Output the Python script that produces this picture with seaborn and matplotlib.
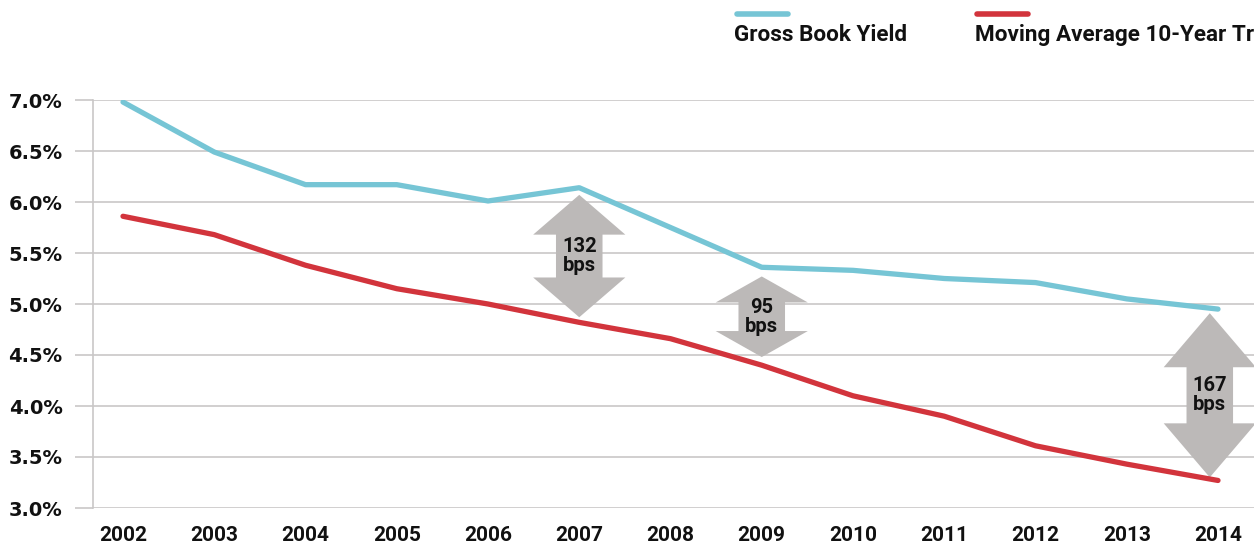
import numpy as np
import pandas as pd
import seaborn as sns
import matplotlib.pyplot as plt
from matplotlib.patches import Polygon

years = list(range(2002, 2015))
gross_book_yield = [6.98, 6.49, 6.17, 6.17, 6.01, 6.14, 5.75, 5.36, 5.33, 5.25, 5.21, 5.05, 4.95]
moving_avg_10y = [5.86, 5.68, 5.38, 5.15, 5.00, 4.82, 4.66, 4.40, 4.10, 3.90, 3.61, 3.43, 3.27]
series_names = ["Gross Book Yield", "Moving Average 10-Year Treasury"]
y_ticks = [3.0, 3.5, 4.0, 4.5, 5.0, 5.5, 6.0, 6.5, 7.0]
spread_years = [2007, 2009, 2014]
spread_labels = ["132\nbps", "95\nbps", "167\nbps"]

BLUE = "#76C5D5"
RED = "#D2343C"
GRID = "#c9c7c7"
ARROW = "#bcb9b8"
FONT = "Roboto"
YFONT = "DejaVu Sans"

sns.set_theme(style="white")
plt.rcParams["font.family"] = [FONT, "DejaVu Sans"]
plt.rcParams["font.weight"] = "bold"

df = pd.DataFrame({
    "year": years * 2,
    "value": gross_book_yield + moving_avg_10y,
    "series": [series_names[0]] * len(years) + [series_names[1]] * len(years),
})

fig = plt.figure(figsize=(12.54, 5.51), dpi=100)
ax = fig.add_axes([93 / 1254, 1 - 508 / 551, 1 - 93 / 1254, (508 - 100) / 551])

sns.lineplot(data=df, x="year", y="value", hue="series", palette=[BLUE, RED],
             linewidth=3.8, ax=ax, legend=False, zorder=3)
for l in ax.lines:
    l.set_solid_capstyle("round")

ax.set_xlim(2002 - 30 / 91.25, 2014 + 36 / 91.25)
ax.set_ylim(3.0, 7.0)
ax.set_yticks(y_ticks)
ax.set_yticklabels([f"{v:.1f}%" for v in y_ticks])
ax.set_xticks(years)
ax.set_xticklabels([str(y) for y in years])
ax.grid(axis="y", color=GRID, linewidth=1.2)
ax.set_axisbelow(True)
for s in ["top", "right", "bottom"]:
    ax.spines[s].set_visible(False)
ax.spines["left"].set_color(GRID)
ax.spines["left"].set_linewidth(1.2)
ax.tick_params(axis="y", length=13, width=1.2, color=GRID, pad=9, labelsize=14, left=True)
ax.tick_params(axis="x", length=0, pad=13, labelsize=15)
for t in ax.get_yticklabels():
    t.set_fontweight("bold")
    t.set_fontfamily(YFONT)
    t.set_color("#111111")
for t in ax.get_xticklabels():
    t.set_fontweight("bold")
    t.set_color("#111111")
ax.set_xlabel("")
ax.set_ylabel("")

# double-headed spread arrows
arrow_specs = {
    2007: dict(dx=0.0, top_gap=0.07, bot_gap=0.05, head=0.39),
    2009: dict(dx=0.0, top_gap=0.09, bot_gap=0.08, head=0.255),
    2014: dict(dx=-0.09, top_gap=0.04, bot_gap=0.03, head=0.53),
}
yr_idx = {y: i for i, y in enumerate(years)}
hw, sw = 0.505, 0.255
for yr, lab in zip(spread_years, spread_labels):
    sp = arrow_specs[yr]
    i = yr_idx[yr]
    cx = yr + sp["dx"]
    top = gross_book_yield[i] - sp["top_gap"]
    bot = moving_avg_10y[i] + sp["bot_gap"]
    h = sp["head"]
    pts = [
        (cx, top), (cx + hw, top - h), (cx + sw, top - h), (cx + sw, bot + h),
        (cx + hw, bot + h), (cx, bot), (cx - hw, bot + h), (cx - sw, bot + h),
        (cx - sw, top - h), (cx - hw, top - h),
    ]
    ax.add_patch(Polygon(pts, closed=True, facecolor=ARROW, edgecolor="none", zorder=2, clip_on=False))
    ax.text(cx, (top + bot) / 2, lab, ha="center", va="center", fontsize=14.5,
            fontweight="bold", color="#111111", linespacing=1.0, zorder=4)

# legend
fig.add_artist(plt.Line2D([737 / 1254, 788 / 1254], [1 - 14 / 551] * 2, color=BLUE,
                          linewidth=4, solid_capstyle="round", transform=fig.transFigure))
fig.add_artist(plt.Line2D([977 / 1254, 1028 / 1254], [1 - 14 / 551] * 2, color=RED,
                          linewidth=4, solid_capstyle="round", transform=fig.transFigure))
fig.text(734 / 1254, 1 - 35 / 551, series_names[0], ha="left", va="center",
         fontsize=16.2, fontweight="bold", color="#111111")
fig.text(975 / 1254, 1 - 35 / 551, series_names[1], ha="left", va="center",
         fontsize=16.2, fontweight="bold", color="#111111")

fig.savefig("out.png", dpi=100, facecolor="white")
